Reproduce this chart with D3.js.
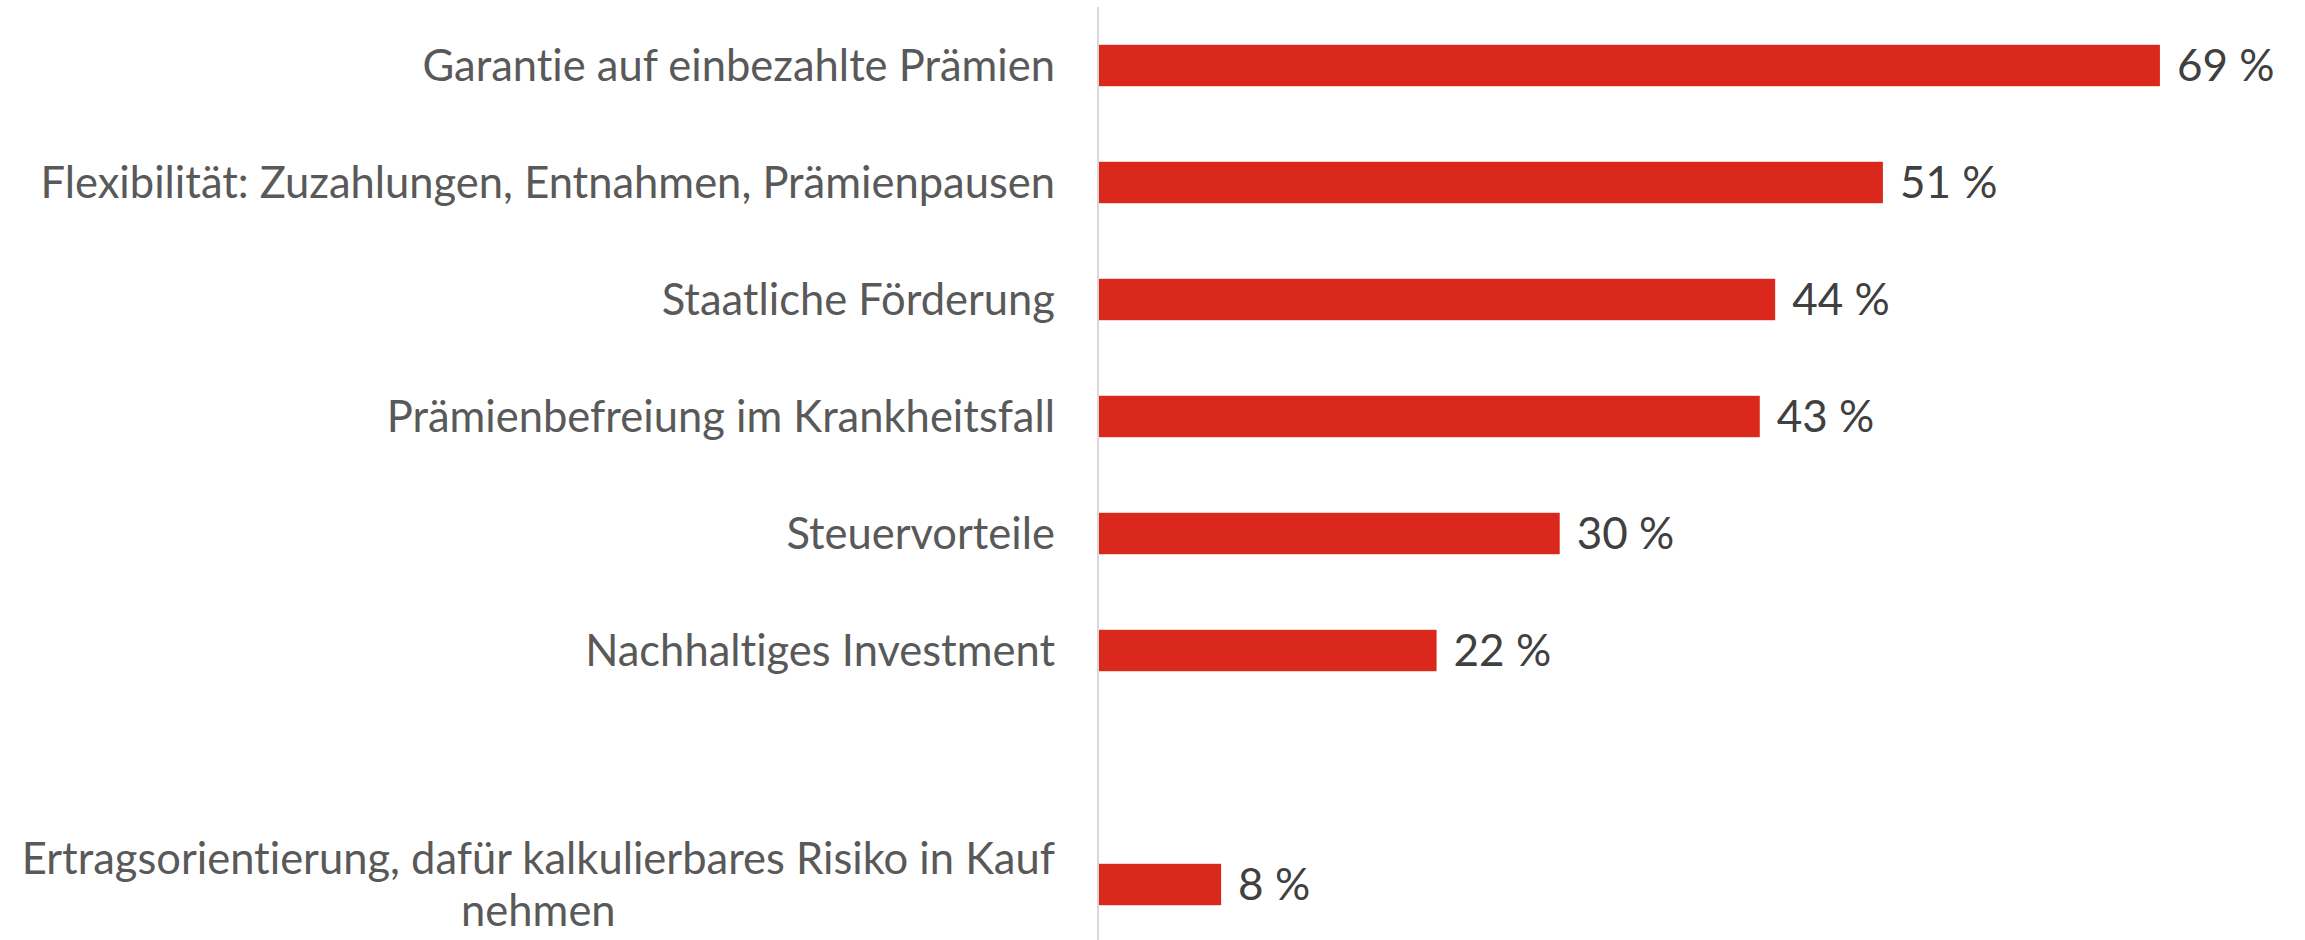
<!DOCTYPE html>
<html>
<head>
<meta charset="utf-8">
<script src="https://cdn.jsdelivr.net/npm/d3@7"></script>
<style>
  body { margin: 0; background: #fff; }
  svg { display: block; }
  text { font-family: Lato, "Open Sans", sans-serif; font-variant-ligatures: none; }
</style>
</head>
<body>
<svg width="2305" height="940"></svg>
<script>
// categories top to bottom, "" is the empty slot before the last row
var categories = [
    'Garantie auf einbezahlte Prämien',
    'Flexibilität: Zuzahlungen, Entnahmen, Prämienpausen',
    'Staatliche Förderung',
    'Prämienbefreiung im Krankheitsfall',
    'Steuervorteile',
    'Nachhaltiges Investment',
    '',
    'Ertragsorientierung, dafür kalkulierbares Risiko in Kauf nehmen'
];
var values = [69, 51, 44, 43, 30, 22, null, 8];

var svg = d3.select('svg');
var svgWidth = +svg.attr('width');
var svgHeight = +svg.attr('height');

var axisX = 1098;
var labelGap = 43;

var x = d3.scaleLinear()
    .domain([0, 100])
    .range([axisX, axisX + 1539]);

var y = d3.scaleBand()
    .domain(d3.range(categories.length))
    .range([7, 943])
    .paddingInner(0.646)
    .paddingOuter(0.323);

var rows = categories.map(function(c, i) {
    return {name: c, value: values[i], i: i};
});

// bars
svg.selectAll('.bar')
    .data(rows.filter(function(d) { return d.value != null; }))
    .enter()
    .append('rect')
    .attr('class', 'bar')
    .attr('x', x(0))
    .attr('y', function(d) { return y(d.i); })
    .attr('width', function(d) { return x(d.value) - x(0); })
    .attr('height', y.bandwidth())
    .attr('fill', '#da291c');

// value labels
svg.selectAll('.value')
    .data(rows.filter(function(d) { return d.value != null; }))
    .enter()
    .append('text')
    .attr('class', 'value')
    .attr('x', function(d) { return x(d.value) + 17; })
    .attr('y', function(d) { return y(d.i) + y.bandwidth() / 2; })
    .attr('dy', '0.36em')
    .attr('font-size', 44)
    .attr('fill', '#404040')
    .text(function(d) { return d.value + ' %'; });

// category labels, wrapped and centred as a block, right aligned to the axis
var labelG = svg.selectAll('.cat')
    .data(rows.filter(function(d) { return d.name; }))
    .enter()
    .append('text')
    .attr('class', 'cat')
    .attr('font-size', 43.5)
    .attr('fill', '#595959')
    .attr('text-anchor', 'middle');

var maxWidth = 1075;
var lineHeight = 52;

labelG.each(function(d) {
    var t = d3.select(this);
    var words = d.name.split(' ');
    var lines = [];
    var line = [];
    var probe = t.append('tspan');
    words.forEach(function(w) {
        line.push(w);
        probe.text(line.join(' '));
        if (probe.node().getComputedTextLength() > maxWidth && line.length > 1) {
            line.pop();
            lines.push(line.join(' '));
            line = [w];
        }
    });
    lines.push(line.join(' '));
    probe.remove();

    var widest = 0;
    lines.forEach(function(l) {
        var s = t.append('tspan').text(l);
        widest = Math.max(widest, s.node().getComputedTextLength());
        s.remove();
    });

    var cx = axisX - labelGap - widest / 2;
    var cy = y(d.i) + y.bandwidth() / 2;
    var top = cy - (lines.length - 1) * lineHeight / 2;
    lines.forEach(function(l, k) {
        t.append('tspan')
            .attr('x', cx)
            .attr('y', top + k * lineHeight)
            .attr('dy', '0.36em')
            .text(l);
    });
});

// vertical axis line
svg.append('line')
    .attr('x1', axisX)
    .attr('x2', axisX)
    .attr('y1', 7)
    .attr('y2', svgHeight)
    .attr('stroke', '#d9d9d9')
    .attr('stroke-width', 2);
</script>
</body>
</html>
